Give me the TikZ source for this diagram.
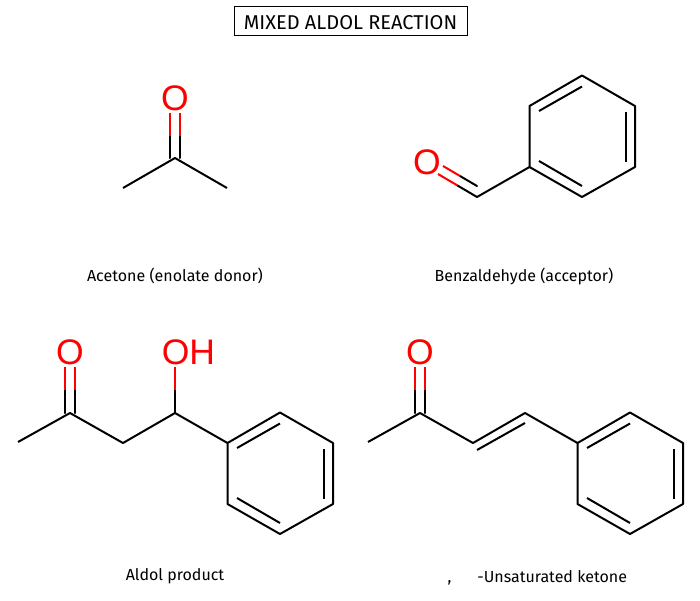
\documentclass[tikz,border=0pt]{standalone}
\usepackage{fontspec}
\setmainfont{Fira Sans}
\newfontfamily\atomfont{Liberation Sans}
\usetikzlibrary{calc}
\definecolor{atomred}{RGB}{255,0,0}
\tikzset{
    bond/.style={line width=2pt, black},
    obond/.style={line width=2pt, atomred},
    atom/.style={text=atomred, font=\atomfont\fontsize{35.5}{35.5}\selectfont, inner sep=2pt},
    caption/.style={font=\fontsize{16}{19}\selectfont, black},
}
% black half of the bond from the carbon, red half towards the oxygen
\newcommand{\cobond}[3]{%
    \draw[bond, line cap=round] ($(#1)+(#3,0)$)--($(#1)!0.5!(#2)+(#3,0)$);
    \draw[obond] ($(#1)!0.5!(#2)+(#3,0)$)--($(#2)+(#3,0)$);
}
% six ring atoms #1a .. #1f, three inner lines
\newcommand{\phenyl}[3]{%
    \coordinate (#1a) at (#2,#3);
    \coordinate (#1b) at (#2+52.5,#3-30.5);
    \coordinate (#1c) at (#2+105.5,#3);
    \coordinate (#1d) at (#2+105.5,#3+61);
    \coordinate (#1e) at (#2+52.5,#3+91);
    \coordinate (#1f) at (#2,#3+61);
    \draw[bond, line join=round] (#1a)--(#1b)--(#1c)--(#1d)--(#1e)--(#1f)--cycle;
    \draw[bond] (#2+9.5,#3+5)--(#2+52.5,#3-19.5);
    \draw[bond] (#2+96.5,#3+6)--(#2+96.5,#3+56);
    \draw[bond] (#2+52.5,#3+80)--(#2+9.5,#3+55);
}
\begin{document}
\begin{tikzpicture}[x=1pt,y=-1pt]
    \useasboundingbox (0,0) rectangle (700,600);

    \node[draw, line width=1pt, minimum width=233pt, minimum height=29pt, inner sep=0pt,
        text height=17pt, text depth=0pt,
        font=\fontsize{20}{23}\selectfont] (title) at (350.5,20.5) {MIXED ALDOL REACTION};

    % acetone
    \coordinate (acMeA) at (123,188);
    \coordinate (acC) at (175,158);
    \coordinate (acMeB) at (227,188);
    \node[atom] (acO) at (175,98.5) {O};
    \draw[bond, line join=round] (acMeA)--(acC)--(acMeB);
    \cobond{acC}{acO.south}{-4.7}
    \cobond{acC}{acO.south}{4.7}
    \node[caption] (acLabel) at (175,276) {Acetone (enolate donor)};

    % benzaldehyde
    \phenyl{bz}{529.5}{106}
    \coordinate (bzC) at (477,197);
    \coordinate (bzCb) at (477,186);
    \coordinate (bzEnd) at (438,174);
    \coordinate (bzEndb) at (443,166);
    \node[atom] (bzO) at (427,162.5) {O};
    \draw[bond] (bzf)--(bzC);
    \cobond{bzC}{bzEnd}{0}
    \cobond{bzCb}{bzEndb}{0}
    \node[caption] (bzLabel) at (524,276) {Benzaldehyde (acceptor)};

    % aldol product
    \phenyl{al}{227.5}{443}
    \coordinate (alMe) at (18,442);
    \coordinate (alCO) at (70,413);
    \coordinate (alCH) at (123,443);
    \coordinate (alCOH) at (175,413);
    \node[atom] (alO) at (70,352.5) {O};
    \node[atom] (alOH) at (188.5,352.5) {OH};
    \draw[bond, line join=round] (alMe)--(alCO)--(alCH)--(alCOH)--(ala);
    \cobond{alCO}{alO.south}{-4.7}
    \cobond{alCO}{alO.south}{4.7}
    \coordinate (alOHend) at (175,367);
    \cobond{alCOH}{alOHend}{0}
    \node[caption] (alLabel) at (175,576) {Aldol product};

    % unsaturated ketone
    \phenyl{en}{577.5}{443}
    \coordinate (enMe) at (368,442);
    \coordinate (enCO) at (420,413);
    \coordinate (enCa) at (473,443);
    \coordinate (enCb) at (525,413);
    \node[atom] (enO) at (420,352.5) {O};
    \draw[bond, line join=round] (enMe)--(enCO)--(enCa)--(enCb)--(ena);
    \draw[bond] (477,450)--(525,423);
    \cobond{enCO}{enO.south}{-4.7}
    \cobond{enCO}{enO.south}{4.7}
    \node[caption, anchor=west] (enLabel) at (444,578) {,\hspace{26pt}-Unsaturated ketone};
\end{tikzpicture}
\end{document}
